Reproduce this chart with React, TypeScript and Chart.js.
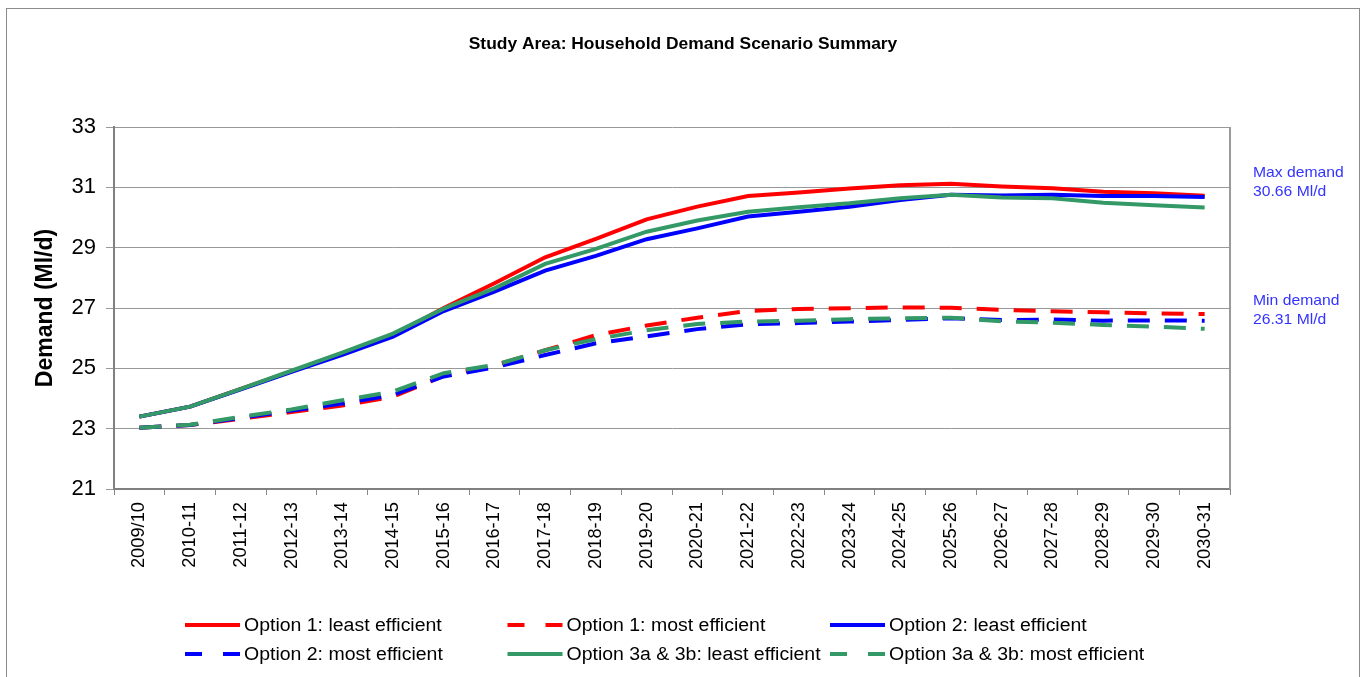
import React, { useEffect, useRef } from 'react';
import { Chart, registerables } from 'chart.js';

Chart.register(...registerables);

const TITLE = 'Study Area: Household Demand Scenario Summary';
const Y_TITLE = 'Demand (Ml/d)';

const categories = [
  '2009/10', '2010-11', '2011-12', '2012-13', '2013-14', '2014-15', '2015-16', '2016-17',
  '2017-18', '2018-19', '2019-20', '2020-21', '2021-22', '2022-23', '2023-24', '2024-25',
  '2025-26', '2026-27', '2027-28', '2028-29', '2029-30', '2030-31',
];

const option1Least = [
  23.40, 23.73, 24.32, 24.90, 25.50, 26.10, 27.00, 27.82, 28.68, 29.29, 29.94,
  30.36, 30.71, 30.83, 30.96, 31.07, 31.12, 31.03, 30.97, 30.85, 30.80, 30.72,
];
const option1Most = [
  23.03, 23.12, 23.33, 23.55, 23.77, 24.06, 24.75, 25.10, 25.60, 26.10, 26.42,
  26.68, 26.90, 26.97, 26.99, 27.02, 27.01, 26.94, 26.89, 26.86, 26.82, 26.80,
];
const option2Least = [
  23.40, 23.73, 24.30, 24.88, 25.45, 26.05, 26.90, 27.54, 28.24, 28.73, 29.28,
  29.64, 30.03, 30.19, 30.36, 30.58, 30.75, 30.73, 30.75, 30.71, 30.71, 30.68,
];
const option2Most = [
  23.03, 23.12, 23.36, 23.60, 23.83, 24.12, 24.73, 25.03, 25.44, 25.83, 26.06,
  26.30, 26.46, 26.50, 26.55, 26.60, 26.66, 26.60, 26.62, 26.58, 26.59, 26.58,
];
const option3Least = [
  23.40, 23.73, 24.32, 24.92, 25.52, 26.15, 26.98, 27.65, 28.46, 28.96, 29.53,
  29.90, 30.19, 30.34, 30.47, 30.64, 30.75, 30.66, 30.64, 30.49, 30.41, 30.33,
];
const option3Most = [
  23.03, 23.13, 23.39, 23.64, 23.94, 24.23, 24.84, 25.11, 25.60, 25.97, 26.26,
  26.47, 26.55, 26.58, 26.63, 26.66, 26.68, 26.56, 26.51, 26.44, 26.38, 26.31,
];

const seriesLabels = [
  'Option 1: least efficient',
  'Option 1: most efficient',
  'Option 2: least efficient',
  'Option 2: most efficient',
  'Option 3a & 3b: least efficient',
  'Option 3a & 3b: most efficient',
];

const maxNote = ['Max demand', '30.66 Ml/d'];
const minNote = ['Min demand', '26.31 Ml/d'];

const Y_MIN = 21;
const Y_MAX = 33;
const Y_STEP = 2;

const FONT = '"Liberation Sans", Arial, Helvetica, sans-serif';
const RED = '#ff0000';
const BLUE = '#0000ff';
const GREEN = '#339966';
const DASH = [22, 15];

function stretchedText(ctx: CanvasRenderingContext2D, text: string, x: number, y: number, sx: number) {
  ctx.save();
  ctx.translate(x, y);
  ctx.scale(sx, 1);
  ctx.fillText(text, 0, 0);
  ctx.restore();
}

const decorPlugin = {
  id: 'decor',
  beforeDraw(chart: any) {
    const ctx = chart.ctx;
    ctx.save();
    ctx.fillStyle = '#ffffff';
    ctx.fillRect(0, 0, chart.width, chart.height);
    ctx.strokeStyle = '#8c8c8c';
    ctx.lineWidth = 1;
    ctx.strokeRect(6.5, 8.5, chart.width - 8, chart.height + 20);
    ctx.restore();
  },
  afterDraw(chart: any) {
    const { ctx, chartArea } = chart;
    ctx.save();
    // right edge of plot area
    ctx.strokeStyle = '#9a9a9a';
    ctx.lineWidth = 2;
    ctx.beginPath();
    ctx.moveTo(chartArea.right, chartArea.top);
    ctx.lineTo(chartArea.right, chartArea.bottom);
    ctx.stroke();

    // title
    ctx.fillStyle = '#000000';
    ctx.font = `bold 17px ${FONT}`;
    ctx.textAlign = 'center';
    ctx.textBaseline = 'middle';
    stretchedText(ctx, TITLE, 683, 44, 1.024);

    // notes
    ctx.fillStyle = '#3333ff';
    ctx.font = `15px ${FONT}`;
    ctx.textAlign = 'left';
    const nx = chartArea.right + 23;
    stretchedText(ctx, maxNote[0], nx, 173, 1.047);
    stretchedText(ctx, maxNote[1], nx, 192, 1.047);
    stretchedText(ctx, minNote[0], nx, 301, 1.047);
    stretchedText(ctx, minNote[1], nx, 320, 1.047);

    // legend
    chart.data.datasets.forEach((ds: any, i: number) => {
      const col = i % 3;
      const row = Math.floor(i / 3);
      const x = 185 + col * 322.5;
      const y = 625 + row * 29;
      ctx.strokeStyle = ds.borderColor;
      ctx.lineWidth = 4;
      ctx.setLineDash(ds.borderDash && ds.borderDash.length ? [17, 21] : []);
      ctx.beginPath();
      ctx.moveTo(x, y);
      ctx.lineTo(x + 55, y);
      ctx.stroke();
      ctx.setLineDash([]);
      ctx.fillStyle = '#000000';
      ctx.font = `18px ${FONT}`;
      ctx.textAlign = 'left';
      ctx.textBaseline = 'middle';
      stretchedText(ctx, ds.label, x + 59, y + 1, 1.082);
    });
    ctx.restore();
  },
};

export default function App() {
  const canvasRef = useRef<HTMLCanvasElement | null>(null);

  useEffect(() => {
    if (!canvasRef.current) return;
    const mk = (label: string, data: number[], color: string, dashed: boolean, order: number) => ({
      label,
      data,
      borderColor: color,
      backgroundColor: color,
      borderWidth: 4,
      borderDash: dashed ? DASH : [],
      pointRadius: 0,
      pointHoverRadius: 0,
      tension: 0,
      fill: false,
      order,
    });
    const chart = new Chart(canvasRef.current, {
      type: 'line',
      data: {
        labels: categories,
        datasets: [
          mk(seriesLabels[0], option1Least, RED, false, 5),
          mk(seriesLabels[1], option1Most, RED, true, 4),
          mk(seriesLabels[2], option2Least, BLUE, false, 3),
          mk(seriesLabels[3], option2Most, BLUE, true, 2),
          mk(seriesLabels[4], option3Least, GREEN, false, 1),
          mk(seriesLabels[5], option3Most, GREEN, true, 0),
        ],
      },
      options: {
        responsive: false,
        animation: false,
        devicePixelRatio: 1,
        layout: { padding: { left: 28, right: 131, top: 127, bottom: 100 } },
        plugins: {
          legend: { display: false },
          title: { display: false },
          tooltip: { enabled: false },
        },
        scales: {
          x: {
            type: 'category',
            offset: true,
            grid: {
              drawOnChartArea: false,
              drawTicks: true,
              tickLength: 6,
              color: '#888888',
              offset: true,
            },
            border: { display: true, color: '#808080', width: 2 },
            ticks: {
              autoSkip: false,
              minRotation: 90,
              maxRotation: 90,
              padding: 7,
              color: '#000000',
              font: { family: FONT, size: 18.3 },
            },
            afterFit(scale: any) {
              scale.height = 88;
            },
          },
          y: {
            min: Y_MIN,
            max: Y_MAX,
            ticks: {
              stepSize: Y_STEP,
              padding: 10,
              color: '#000000',
              font: { family: FONT, size: 22 },
            },
            grid: { color: '#999999', lineWidth: 1, tickLength: 8, drawTicks: true },
            border: { display: true, color: '#808080', width: 2 },
            title: {
              display: true,
              text: Y_TITLE,
              color: '#000000',
              font: { family: FONT, size: 23, weight: 'bold' },
              padding: { top: 4, bottom: 0 },
            },
            afterFit(scale: any) {
              scale.width = 86;
            },
          },
        },
      } as any,
      plugins: [decorPlugin],
    });
    return () => chart.destroy();
  }, []);

  return (
    <div style={{ position: 'absolute', left: 0, top: 0, width: 1361, height: 677, overflow: 'hidden' }}>
      <canvas ref={canvasRef} width={1361} height={677} style={{ display: 'block' }} />
    </div>
  );
}
